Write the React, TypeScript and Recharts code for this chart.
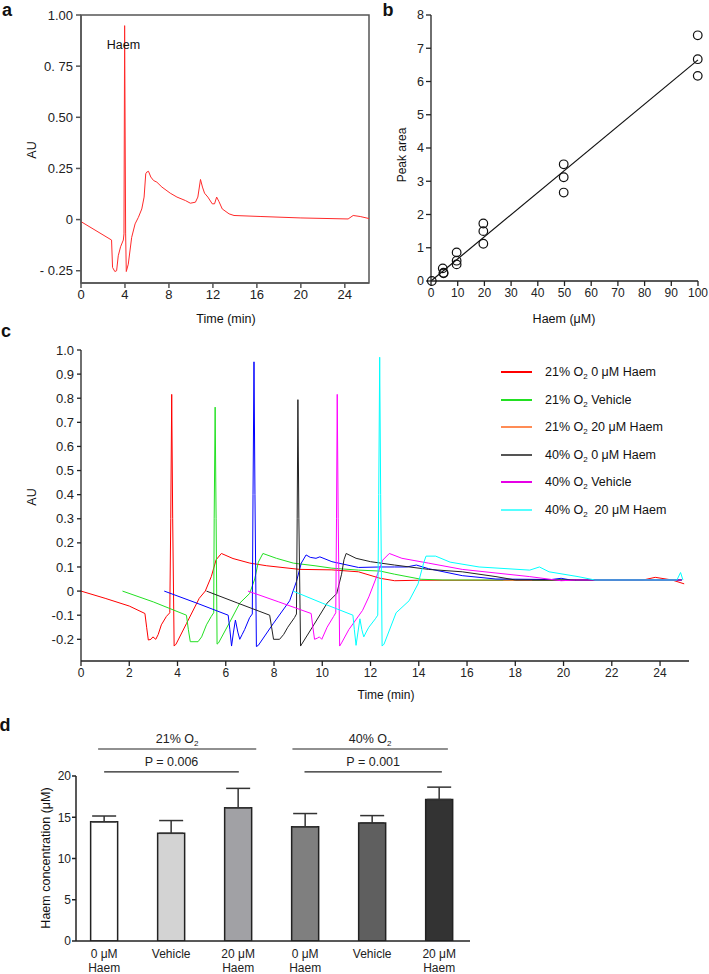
import {
  LineChart,
  Line,
  XAxis,
  YAxis,
  ComposedChart,
  Scatter,
  Bar,
  Cell,
  ErrorBar,
  ReferenceLine,
  ReferenceArea,
} from "recharts";

const FONT = '"Liberation Sans", Arial, Helvetica, sans-serif';
const INK = "#222";

// ---- a: chromatogram of the haem standard
const A_TIME = [0, 2.78, 2.87, 3.08, 3.24, 3.39, 3.6, 3.85, 3.91, 3.97, 4.06, 4.12, 4.3, 4.61, 4.92, 5.22, 5.53, 5.74, 5.89, 5.98, 6.14, 6.35, 6.6, 6.9, 7.36, 8.12, 8.73, 9.5, 9.95, 10.41, 10.63, 10.87, 11.05, 11.24, 11.54, 11.94, 12.15, 12.34, 12.55, 12.85, 13.47, 13.92, 16.37, 20.0, 24.3, 24.76, 25.4, 26.2];
const A_AU = [-0.01, -0.1, -0.234, -0.254, -0.25, -0.177, -0.133, -0.1, -0.07, 0.948, -0.07, -0.254, -0.218, -0.087, -0.021, 0.011, 0.052, 0.11, 0.224, 0.232, 0.236, 0.208, 0.191, 0.183, 0.159, 0.129, 0.11, 0.093, 0.08, 0.085, 0.11, 0.196, 0.159, 0.129, 0.11, 0.077, 0.077, 0.11, 0.088, 0.052, 0.028, 0.02, 0.015, 0.008, 0.003, 0.02, 0.015, 0.005];
const A_X_TICKS = [0, 4, 8, 12, 16, 20, 24];
const A_Y_TICKS = [1, 0.75, 0.5, 0.25, 0, -0.25];
const A_Y_LABELS = ["1.00", "0. 75", "0.50", "0.25", "0", "- 0.25"];

// ---- b: standard curve
const B_HAEM = [0.3, 4.4, 4.7, 4.7, 9.6, 9.6, 9.6, 19.6, 19.6, 19.6, 49.7, 49.7, 49.7, 99.9, 99.9, 99.9];
const B_AREA = [0, 0.38, 0.25, 0.23, 0.86, 0.61, 0.5, 1.73, 1.5, 1.12, 3.51, 3.12, 2.66, 7.39, 6.67, 6.17];
const B_FIT_X = [0, 100];
const B_FIT_Y = [0, 6.65];
const B_X_TICKS = [0, 10, 20, 30, 40, 50, 60, 70, 80, 90, 100];
const B_Y_TICKS = [0, 1, 2, 3, 4, 5, 6, 7, 8];

// ---- c: offset chromatograms, [time, AU]
const C_RED: [number, number][] = [[0, 0], [1, -0.03], [2, -0.062], [2.65, -0.093], [2.72, -0.15], [2.79, -0.203], [2.9, -0.2], [2.98, -0.19], [3.1, -0.2], [3.2, -0.18], [3.33, -0.14], [3.54, -0.105], [3.68, -0.09], [3.72, 0.3], [3.76, 0.816], [3.8, 0.3], [3.86, -0.228], [3.94, -0.22], [4.37, -0.135], [4.9, -0.03], [5.15, 0], [5.4, 0.06], [5.6, 0.13], [5.82, 0.156], [6.3, 0.135], [7.0, 0.116], [7.7, 0.105], [9.06, 0.09], [10.4, 0.088], [11.5, 0.08], [12.4, 0.053], [13, 0.043], [14, 0.045], [18, 0.045], [23.3, 0.046], [23.8, 0.057], [24.5, 0.046], [25, 0.03]];
const C_GREEN: [number, number][] = [[1.72, 0], [3, -0.045], [4.37, -0.1], [4.45, -0.16], [4.53, -0.21], [4.85, -0.21], [5.0, -0.19], [5.2, -0.14], [5.4, -0.105], [5.5, -0.09], [5.52, 0.3], [5.56, 0.763], [5.6, 0.3], [5.64, -0.22], [5.7, -0.215], [6.16, -0.13], [6.58, -0.05], [6.99, -0.01], [7.2, 0.05], [7.35, 0.12], [7.54, 0.156], [8.1, 0.136], [8.8, 0.116], [9.7, 0.105], [10.4, 0.095], [11.5, 0.087], [12.4, 0.083], [13, 0.07], [14.1, 0.049], [15, 0.046], [24.9, 0.046]];
const C_BLUE: [number, number][] = [[3.45, 0], [4.8, -0.05], [6.1, -0.1], [6.17, -0.16], [6.24, -0.228], [6.32, -0.17], [6.4, -0.12], [6.5, -0.17], [6.58, -0.2], [6.68, -0.18], [6.78, -0.16], [6.99, -0.11], [7.1, -0.095], [7.13, 0.4], [7.17, 0.951], [7.21, 0.4], [7.27, -0.23], [7.35, -0.225], [7.96, -0.136], [8.65, -0.04], [8.93, 0.04], [9.13, 0.116], [9.33, 0.15], [9.5, 0.14], [9.74, 0.136], [9.9, 0.142], [10.4, 0.122], [11.5, 0.098], [12.4, 0.1], [13.0, 0.1], [13.5, 0.1], [13.9, 0.108], [14.4, 0.093], [15.8, 0.064], [17.2, 0.05], [19.5, 0.048], [19.9, 0.053], [20.3, 0.046], [24.9, 0.046]];
const C_ORANGE: [number, number][] = [[17.5, 0.046], [18.7, 0.044]];
const C_BLACK: [number, number][] = [[5.2, 0], [6.5, -0.05], [7.82, -0.1], [7.9, -0.15], [7.98, -0.2], [8.23, -0.2], [8.4, -0.18], [8.57, -0.15], [8.85, -0.11], [8.93, -0.095], [8.96, 0.3], [8.99, 0.794], [9.03, 0.3], [9.1, -0.228], [9.15, -0.22], [9.65, -0.14], [10.2, -0.05], [10.6, -0.01], [10.8, 0.07], [10.9, 0.13], [10.99, 0.156], [11.4, 0.136], [12.0, 0.122], [13.0, 0.108], [14.4, 0.09], [15.8, 0.08], [17.2, 0.06], [18.0, 0.046], [24.9, 0.046]];
const C_MAGENTA: [number, number][] = [[6.92, 0], [8.2, -0.045], [9.54, -0.093], [9.61, -0.15], [9.68, -0.2], [9.8, -0.195], [9.88, -0.19], [9.98, -0.2], [10.2, -0.15], [10.47, -0.105], [10.56, -0.09], [10.59, 0.3], [10.62, 0.816], [10.66, 0.3], [10.72, -0.228], [10.8, -0.215], [11.1, -0.16], [11.67, -0.08], [11.93, -0.024], [12.2, 0.046], [12.5, 0.128], [12.78, 0.156], [13.3, 0.136], [14.4, 0.116], [15.8, 0.09], [17.2, 0.075], [18.6, 0.06], [19.9, 0.043], [20.5, 0.046], [24.9, 0.046]];
const C_CYAN: [number, number][] = [[8.79, 0], [10, -0.05], [11.27, -0.1], [11.33, -0.16], [11.4, -0.225], [11.48, -0.17], [11.56, -0.115], [11.64, -0.16], [11.72, -0.19], [11.82, -0.17], [11.93, -0.15], [12.2, -0.115], [12.3, -0.1], [12.34, 0.4], [12.38, 0.97], [12.42, 0.4], [12.48, -0.228], [12.56, -0.22], [13.06, -0.09], [13.6, -0.04], [13.97, 0.03], [14.2, 0.116], [14.3, 0.145], [14.7, 0.145], [15.3, 0.12], [16.5, 0.1], [18.6, 0.087], [19.0, 0.1], [19.4, 0.08], [20.6, 0.06], [21.3, 0.046], [24.7, 0.046], [24.85, 0.077], [24.95, 0.046]];
const C_X_TICKS = [0, 2, 4, 6, 8, 10, 12, 14, 16, 18, 20, 22, 24];
const C_Y_TICKS = [-0.2, -0.1, 0, 0.1, 0.2, 0.3, 0.4, 0.5, 0.6, 0.7, 0.8, 0.9, 1.0];

const C_SERIES = [
  { key: "red", pts: C_RED, color: "#ff0000" },
  { key: "green", pts: C_GREEN, color: "#22e022" },
  { key: "orange", pts: C_ORANGE, color: "#ff8040" },
  { key: "blue", pts: C_BLUE, color: "#0000ff" },
  { key: "black", pts: C_BLACK, color: "#222222" },
  { key: "magenta", pts: C_MAGENTA, color: "#ff00ff" },
  { key: "cyan", pts: C_CYAN, color: "#00ffff" },
];

const C_LEGEND = [
  { pre: "21% O", post: " 0 μM Haem", color: "#ff0000" },
  { pre: "21% O", post: " Vehicle", color: "#22e022" },
  { pre: "21% O", post: " 20 μM Haem", color: "#ff8c55" },
  { pre: "40% O", post: " 0 μM Haem", color: "#555555" },
  { pre: "40% O", post: " Vehicle", color: "#e600e6" },
  { pre: "40% O", post: "\u00a0 20 μM Haem", color: "#55ffff" },
];

// ---- d: haem concentration
const D_LABELS = ["0 μM\nHaem", "Vehicle", "20 μM\nHaem", "0 μM\nHaem", "Vehicle", "20 μM\nHaem"];
const D_MEANS = [14.45, 13.05, 16.15, 13.85, 14.3, 17.15];
const D_SD = [0.7, 1.55, 2.35, 1.6, 0.9, 1.5];
const D_FILLS = ["#ffffff", "#d3d3d3", "#a1a1a5", "#7f7f7f", "#5f5f5f", "#333333"];
const D_BRACKETS = [
  { x1: -0.09, x2: 2.27, y: 23.27, pre: "21% O", sub: "2" },
  { x1: 0, x2: 2.01, y: 20.5, pre: "P = 0.006", sub: "" },
  { x1: 2.81, x2: 5.13, y: 23.27, pre: "40% O", sub: "2" },
  { x1: 2.99, x2: 5.04, y: 20.5, pre: "P = 0.001", sub: "" },
];

function T({ x, y, size = 12.5, rot, bold, children }: any) {
  return (
    <div
      style={{
        position: "absolute",
        left: x,
        top: y,
        transform: `translate(-50%, -50%)${rot ? ` rotate(${rot}deg)` : ""}`,
        fontSize: size,
        fontWeight: bold ? 700 : 400,
        lineHeight: 1,
        whiteSpace: "nowrap",
        color: "#111",
      }}
    >
      {children}
    </div>
  );
}

function DTick(props: any) {
  const { x, y, payload } = props;
  const lines = (D_LABELS[payload.value] ?? "").split("\n");
  return (
    <text x={x} y={y} textAnchor="middle" fill={INK} fontSize={12}>
      {lines.map((l, i) => (
        <tspan key={i} x={x} dy={i === 0 ? "0.71em" : "1.2em"}>
          {l}
        </tspan>
      ))}
    </text>
  );
}

function BracketLabel({ viewBox, pre, sub }: any) {
  if (!viewBox) return null;
  const cx = viewBox.x + viewBox.width / 2;
  return (
    <text x={cx} y={viewBox.y - 6} textAnchor="middle" fill={INK} fontSize={12.5}>
      {pre}
      {sub && (
        <tspan fontSize={8} dy={3}>
          {sub}
        </tspan>
      )}
    </text>
  );
}

function PanelA() {
  const data = A_TIME.map((t, i) => ({ t, au: A_AU[i] }));
  const axis = { stroke: "#555", strokeWidth: 1.5 };
  return (
    <div style={{ position: "absolute", left: 0, top: 0 }}>
      <LineChart width={380} height={330} data={data} margin={{ top: 15, right: 11, left: 31, bottom: 17 }}>
        <XAxis dataKey="t" type="number" domain={[0, 26.2]} ticks={A_X_TICKS} allowDataOverflow height={30} tickSize={5} axisLine={axis} tickLine={axis} tick={{ fill: INK, fontSize: 13 }} />
        <YAxis type="number" domain={[-0.31, 1]} ticks={A_Y_TICKS} allowDataOverflow width={50} tickSize={5} tickMargin={3} axisLine={axis} tickLine={axis} tick={{ fill: INK, fontSize: 13 }} tickFormatter={(v: number) => A_Y_LABELS[A_Y_TICKS.indexOf(v)] ?? String(v)} />
        <ReferenceArea x1={0} x2={26.2} y1={-0.31} y2={1} fill="none" stroke="#555" strokeWidth={1.5} />
        <Line type="linear" dataKey="au" stroke="#ff2a2a" strokeWidth={1} dot={false} isAnimationActive={false} />
      </LineChart>
    </div>
  );
}

function PanelB() {
  const pts = B_HAEM.map((x, i) => ({ x, y: B_AREA[i] }));
  const fit = B_FIT_X.map((x, i) => ({ x, y: B_FIT_Y[i] }));
  const axis = { stroke: INK, strokeWidth: 1.3 };
  return (
    <div style={{ position: "absolute", left: 360, top: 0 }}>
      <ComposedChart width={349} height={330} margin={{ top: 15, right: 11, left: 31, bottom: 19 }}>
        <XAxis dataKey="x" type="number" domain={[0, 100]} ticks={B_X_TICKS} height={30} tickSize={5} axisLine={axis} tickLine={axis} tick={{ fill: INK, fontSize: 12 }} />
        <YAxis type="number" domain={[0, 8]} ticks={B_Y_TICKS} width={40} tickSize={5} tickMargin={2} axisLine={axis} tickLine={axis} tick={{ fill: INK, fontSize: 12.5 }} />
        <Line data={fit} dataKey="y" type="linear" stroke="#111" strokeWidth={1.2} dot={false} isAnimationActive={false} />
        <Scatter
          data={pts}
          dataKey="y"
          isAnimationActive={false}
          shape={(p: any) => <circle cx={p.cx} cy={p.cy} r={4.3} fill="none" stroke="#111" strokeWidth={1.2} />}
        />
      </ComposedChart>
    </div>
  );
}

function PanelC() {
  const axis = { stroke: INK, strokeWidth: 1.3 };
  return (
    <div style={{ position: "absolute", left: 0, top: 330 }}>
      <LineChart width={709} height={370} margin={{ top: 20, right: 20, left: 31, bottom: 9 }}>
        <XAxis dataKey="t" type="number" domain={[0, 25.2]} ticks={C_X_TICKS} allowDataOverflow height={30} tickSize={5} axisLine={axis} tickLine={axis} tick={{ fill: INK, fontSize: 12 }} />
        <YAxis type="number" domain={[-0.29, 1]} ticks={C_Y_TICKS} allowDataOverflow width={50} tickSize={4} tickMargin={3} axisLine={axis} tickLine={axis} tick={{ fill: INK, fontSize: 13 }} tickFormatter={(v: number) => (v === 0 ? "0" : v.toFixed(1))} />
        {C_SERIES.map((s) => (
          <Line
            key={s.key}
            data={s.pts.map(([t, v]) => ({ t, v }))}
            dataKey="v"
            type="linear"
            stroke={s.color}
            strokeWidth={1}
            dot={false}
            isAnimationActive={false}
          />
        ))}
      </LineChart>
    </div>
  );
}

function PanelD() {
  const data = D_MEANS.map((m, i) => ({ pos: i, mean: m, err: [0, D_SD[i]] }));
  const axis = { stroke: INK, strokeWidth: 1.5 };
  return (
    <div style={{ position: "absolute", left: 0, top: 700 }}>
      <ComposedChart width={480} height={274} data={data} margin={{ top: 76, right: 10, left: 36, bottom: 0 }}>
        <XAxis dataKey="pos" type="number" domain={[-0.42, 5.46]} ticks={[0, 1, 2, 3, 4, 5]} interval={0} allowDataOverflow height={33} tickLine={false} axisLine={axis} tick={(p: any) => <DTick {...p} />} />
        <YAxis type="number" domain={[0, 20]} ticks={[0, 5, 10, 15, 20]} allowDataOverflow width={40} tickSize={4} tickMargin={1} axisLine={axis} tickLine={axis} tick={{ fill: INK, fontSize: 12 }} />
        <Bar dataKey="mean" barSize={27} stroke="#222" strokeWidth={1.5} isAnimationActive={false}>
          {data.map((_, i) => (
            <Cell key={i} fill={D_FILLS[i]} />
          ))}
          <ErrorBar dataKey="err" width={12} stroke="#333" strokeWidth={1.5} direction="y" />
        </Bar>
        {D_BRACKETS.map((b, i) => (
          <ReferenceLine
            key={i}
            segment={[{ x: b.x1, y: b.y }, { x: b.x2, y: b.y }]}
            ifOverflow="visible"
            stroke="#222"
            strokeWidth={1.2}
            label={(p: any) => <BracketLabel viewBox={p.viewBox} pre={b.pre} sub={b.sub} />}
          />
        ))}
      </ComposedChart>
    </div>
  );
}

export default function App() {
  return (
    <div
      style={{
        position: "absolute",
        left: 0,
        top: 0,
        width: 709,
        height: 974,
        background: "#fff",
        fontFamily: FONT,
        overflow: "hidden",
      }}
    >
      <PanelA />
      <PanelB />
      <PanelC />
      <PanelD />

      {/* panel letters */}
      <T x={7} y={10} size={18} bold>a</T>
      <T x={388} y={10} size={18} bold>b</T>
      <T x={6} y={331} size={18} bold>c</T>
      <T x={5} y={725} size={18} bold>d</T>

      {/* axis titles and notes */}
      <T x={123.5} y={45}>Haem</T>
      <T x={32} y={150} rot={-90}>AU</T>
      <T x={226} y={319}>Time (min)</T>
      <T x={401.5} y={155} size={12} rot={-90}>Peak area</T>
      <T x={564} y={319}>Haem (μM)</T>
      <T x={32} y={497} rot={-90}>AU</T>
      <T x={386} y={695} size={12}>Time (min)</T>
      <T x={46} y={858} rot={-90}>Haem concentration (μM)</T>

      {/* legend for c */}
      {C_LEGEND.map((l, i) => {
        const y = Math.round(372 + i * 27.6);
        return (
          <div key={i}>
            <div style={{ position: "absolute", left: 501, top: y - 1, width: 31, height: 2, background: l.color }} />
            <div style={{ position: "absolute", left: 545, top: y, transform: "translateY(-50%)", fontSize: 12.5, lineHeight: 1, whiteSpace: "pre", color: "#111" }}>
              {l.pre}
              <sub style={{ fontSize: 8, verticalAlign: "-3px", lineHeight: 0 }}>2</sub>
              {l.post}
            </div>
          </div>
        );
      })}
    </div>
  );
}
